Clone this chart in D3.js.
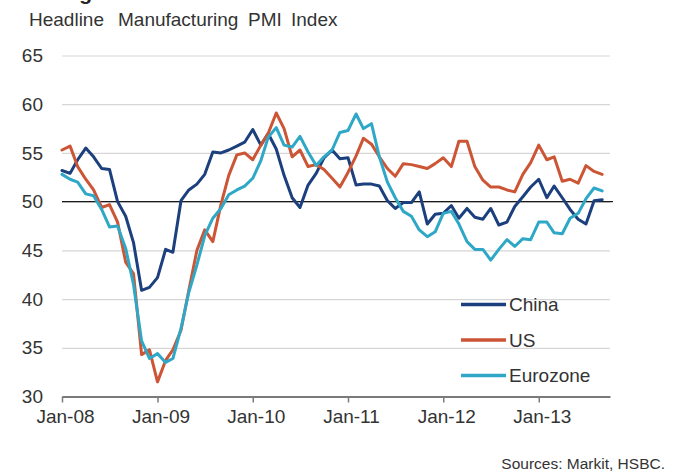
<!DOCTYPE html>
<html>
<head>
<meta charset="utf-8">
<script src="https://cdn.jsdelivr.net/npm/d3@7"></script>
<style>
  body { margin: 0; background: #fff; }
  text { font-family: "Liberation Sans", Arial, sans-serif; }
</style>
</head>
<body>
<div id="container"></div>
<script>
/* CONSTANTS AND DATA */
const width = 679,
  height = 472;

// monthly PMI readings, Jan-08 .. Sep-13
const china = [53.2, 52.9, 54.3, 55.5, 54.6, 53.4, 53.3, 50.0, 48.5, 45.8,
  40.9, 41.2, 42.2, 45.1, 44.8, 50.1, 51.2, 51.8, 52.8, 55.1,
  55.0, 55.3, 55.7, 56.1, 57.4, 55.8, 57.0, 55.4, 52.7, 50.4,
  49.4, 51.7, 52.9, 54.5, 55.3, 54.4, 54.5, 51.7, 51.8, 51.8,
  51.6, 50.1, 49.3, 49.9, 49.9, 51.0, 47.7, 48.7, 48.8, 49.6,
  48.3, 49.3, 48.4, 48.2, 49.3, 47.6, 47.9, 49.5, 50.5, 51.5,
  52.3, 50.4, 51.6, 50.4, 49.2, 48.2, 47.7, 50.1, 50.2];

const us = [55.3, 55.7, 53.6, 52.3, 51.2, 49.4, 49.7, 47.9, 43.8, 42.6,
  34.3, 34.8, 31.5, 33.7, 34.8, 36.8, 40.9, 45.0, 47.1, 45.9,
  49.7, 52.7, 54.8, 55.0, 54.3, 55.8, 57.0, 59.1, 57.5, 54.6,
  55.3, 53.6, 53.8, 53.3, 52.4, 51.5, 53.0, 54.7, 56.5, 55.9,
  54.6, 53.4, 52.6, 53.9, 53.8, 53.6, 53.4, 53.9, 54.5, 53.6,
  56.2, 56.2, 53.6, 52.2, 51.5, 51.5, 51.2, 51.0, 52.8, 54.0,
  55.8, 54.3, 54.6, 52.1, 52.3, 51.9, 53.7, 53.1, 52.8];

const eurozone = [52.8, 52.3, 52.0, 50.8, 50.6, 49.2, 47.4, 47.5, 45.2, 41.5,
  35.7, 33.9, 34.4, 33.5, 33.9, 37.0, 40.7, 43.5, 46.5, 48.3,
  49.3, 50.7, 51.2, 51.6, 52.4, 54.2, 56.6, 57.6, 55.8, 55.6,
  56.7, 55.1, 53.7, 54.6, 55.3, 57.1, 57.3, 59.0, 57.5, 58.0,
  54.6, 52.0, 50.4, 49.0, 48.5, 47.1, 46.4, 46.9, 48.8, 49.0,
  47.7, 45.9, 45.1, 45.1, 44.0, 45.1, 46.1, 45.4, 46.2, 46.1,
  47.9, 47.9, 46.8, 46.7, 48.3, 48.8, 50.3, 51.4, 51.1];

const seriesNames = ["China", "US", "Eurozone"];
const seriesColors = ["#1c3f7e", "#cc5535", "#2ea8c6"];
const yTicks = [30, 35, 40, 45, 50, 55, 60, 65];
const xTickLabels = ["Jan-08", "Jan-09", "Jan-10", "Jan-11", "Jan-12", "Jan-13"];

const parseLabel = d3.timeParse("%b-%y");
const months = d3.timeMonth.range(new Date(2008, 0, 1), new Date(2013, 9, 1));

/* SCALES */
const x = d3.scaleTime()
  .domain([new Date(2008, 0, 1), new Date(2013, 9, 1)])
  .range([62, 610]);

const y = d3.scaleLinear()
  .domain([30, 65])
  .range([396.5, 55.5]);

const svg = d3.select("#container")
  .append("svg")
  .attr("width", width)
  .attr("height", height)
  .attr("viewBox", [0, 0, width, height]);

// cut-off heading above the subtitle (only the descender shows)
svg.append("text")
  .attr("x", 92)
  .attr("y", 0)
  .attr("text-anchor", "end")
  .attr("font-weight", "bold")
  .attr("font-size", 21)
  .attr("fill", "#222")
  .text("Manufacturing");

// subtitle
const title = svg.append("text")
  .attr("y", 26)
  .attr("font-size", 19)
  .attr("fill", "#333");
[["Headline", 29], ["Manufacturing", 118], ["PMI", 248], ["Index", 291]]
  .forEach(([w, px]) => title.append("tspan").attr("x", px).text(w));

// gridlines
svg.append("g")
  .attr("transform", "translate(62,0)")
  .call(d3.axisLeft(y).tickValues(yTicks.slice(1)).tickSize(-(610 - 62)).tickFormat(""))
  .call(g => g.select(".domain").remove())
  .call(g => g.selectAll(".tick line").attr("stroke", "#d6d6d6").attr("stroke-width", 1.2));

// y labels
svg.append("g")
  .attr("transform", "translate(62,0)")
  .call(d3.axisLeft(y).tickValues(yTicks).tickSize(0).tickPadding(19))
  .call(g => g.select(".domain").remove())
  .call(g => g.selectAll(".tick text")
    .attr("font-family", "Liberation Sans, Arial, sans-serif")
    .attr("font-size", 19)
    .attr("fill", "#333"));

// x axis
svg.append("g")
  .attr("transform", `translate(0,${y(30)})`)
  .call(d3.axisBottom(x)
    .tickValues(xTickLabels.map(parseLabel))
    .tickFormat(d3.timeFormat("%b-%y"))
    .tickSize(6)
    .tickSizeOuter(0)
    .tickPadding(7))
  .call(g => g.select(".domain").attr("stroke", "#7a7a7a").attr("stroke-width", 2))
  .call(g => g.selectAll(".tick line").attr("stroke", "#7a7a7a").attr("stroke-width", 1.5))
  .call(g => g.selectAll(".tick text")
    .attr("x", 3)
    .attr("font-family", "Liberation Sans, Arial, sans-serif")
    .attr("font-size", 19)
    .attr("fill", "#333"));

// 50 reference line
svg.append("line")
  .attr("x1", 62)
  .attr("x2", 613)
  .attr("y1", y(50))
  .attr("y2", y(50))
  .attr("stroke", "#1a1a1a")
  .attr("stroke-width", 1.3);

/* LINES */
const line = d3.line()
  .x((d, i) => x(months[i]))
  .y(d => y(d));

[china, us, eurozone].forEach((vals, i) => {
  svg.append("path")
    .datum(vals)
    .attr("fill", "none")
    .attr("stroke", seriesColors[i])
    .attr("stroke-width", 3)
    .attr("stroke-linejoin", "round")
    .attr("stroke-linecap", "round")
    .attr("d", line);
});

/* LEGEND */
const legend = svg.append("g")
  .selectAll("g")
  .data(seriesNames)
  .join("g")
  .attr("transform", (d, i) => `translate(461,${304.5 + i * 35.5})`);

legend.append("line")
  .attr("x1", 0)
  .attr("x2", 45)
  .attr("stroke", (d, i) => seriesColors[i])
  .attr("stroke-width", 3.5);

legend.append("text")
  .attr("x", 48)
  .attr("dy", "0.35em")
  .attr("font-size", 19)
  .attr("fill", "#333")
  .text(d => d);

// source note
svg.append("text")
  .attr("x", 665)
  .attr("y", 469)
  .attr("text-anchor", "end")
  .attr("font-size", 15.5)
  .attr("fill", "#333")
  .text("Sources: Markit, HSBC.");
</script>
</body>
</html>
